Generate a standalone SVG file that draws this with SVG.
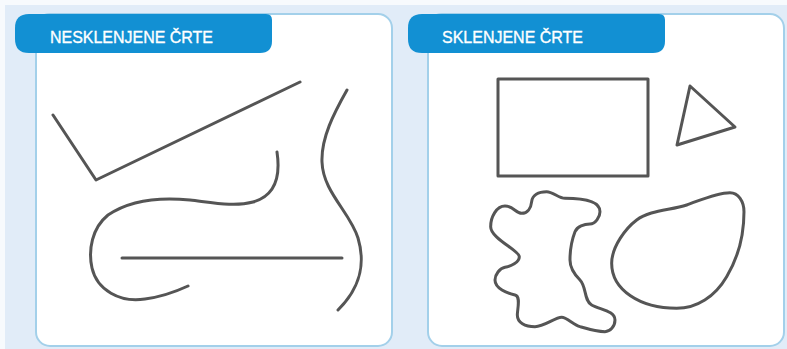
<svg xmlns="http://www.w3.org/2000/svg" width="787" height="349" viewBox="0 0 787 349">
  <style>
    .panel { fill: #ffffff; stroke: #a3d0ea; stroke-width: 2; }
    .tab { fill: #1290d3; }
    .title { fill: #ffffff; stroke: #ffffff; stroke-width: 0.35; font-family: "Liberation Sans", Arial, sans-serif; font-size: 17px; }
    .line { fill: none; stroke: #555555; stroke-width: 3; stroke-linecap: round; stroke-linejoin: round; }
    .lineS { fill: none; stroke: #555555; stroke-width: 9; stroke-linecap: round; stroke-linejoin: round; }
  </style>
  <rect x="0" y="0" width="787" height="349" fill="#f7fafd"/>
  <rect x="5" y="5" width="782" height="344" fill="#e1ecf8"/>

  <g id="panel-open">
    <rect class="panel" x="36" y="14" width="356" height="332" rx="14"/>
    <path class="tab" d="M29,14 H266 Q272,14 272,20 V41 Q272,53 260,53 H29 Q15,53 15,39 V28 Q15,14 29,14 Z"/>
    <text class="title" x="50" y="43" textLength="163" lengthAdjust="spacingAndGlyphs">NESKLENJENE ČRTE</text>
  </g>

  <g id="open-vline">
    <polyline class="line" points="53,115 96,180 300,82"/>
  </g>
  <g id="open-hook">
    <path class="line" d="M277,152 C280,172 278,195 253,202 C235,207 215,203 190,200 C160,197 130,200 108,215 C92,228 88,250 92,268 C97,290 120,303 145,299 C160,297 175,292 188,286"/>
  </g>
  <g id="open-straight">
    <path class="line" d="M122,258 L342,258"/>
  </g>
  <g id="open-scurve">
    <path class="line" d="M347,90 C334,113 321,138 322,162 C323,192 350,212 358,238 C366,265 360,288 338,310"/>
  </g>

  <g id="panel-closed">
    <rect class="panel" x="428" y="14" width="356" height="332" rx="14"/>
    <path class="tab" d="M422,14 H659 Q665,14 665,20 V41 Q665,53 653,53 H422 Q408,53 408,39 V28 Q408,14 422,14 Z"/>
    <text class="title" x="442" y="43" textLength="141" lengthAdjust="spacingAndGlyphs">SKLENJENE ČRTE</text>
  </g>

  <g id="closed-rect">
    <rect class="line" x="498" y="79" width="150" height="97"/>
  </g>
  <g id="closed-triangle">
    <polygon class="line" points="690,86 735,127 677,145"/>
  </g>
  <g id="closed-blob">
    <path class="lineS" transform="translate(480,180) scale(0.3333)" d="M200,35 C219,35 236,55 255,55 C292,55 360,58 360,95 C360,111 346,132 330,132 C313,132 291,139 285,155 C275,181 270,212 270,240 C270,262 285,285 300,300 C320,320 311,361 335,375 C359,389 405,392 405,420 C405,440 390,455 375,455 C350,455 324,447 300,440 C281,434 260,412 245,412 C225,412 193,440 165,440 C135,440 112,428 112,405 C112,387 123,349 105,345 C81,340 45,325 45,300 C45,284 59,265 75,262 C92,259 118,247 118,230 C118,212 32,175 32,140 C32,110 50,78 75,78 C100,78 108,100 125,100 C142,100 153,85 155,65 C157,45 175,35 200,35 Z"/>
  </g>
  <g id="closed-egg">
    <path class="lineS" transform="translate(600,180) scale(0.3333)" d="M390,38 C415,38 432,65 432,95 C432,170 410,240 380,290 C345,350 290,385 230,385 C120,385 35,330 35,250 C35,200 78,144 110,120 C150,90 213,91 260,75 C300,61 350,38 390,38 Z"/>
  </g>
</svg>
